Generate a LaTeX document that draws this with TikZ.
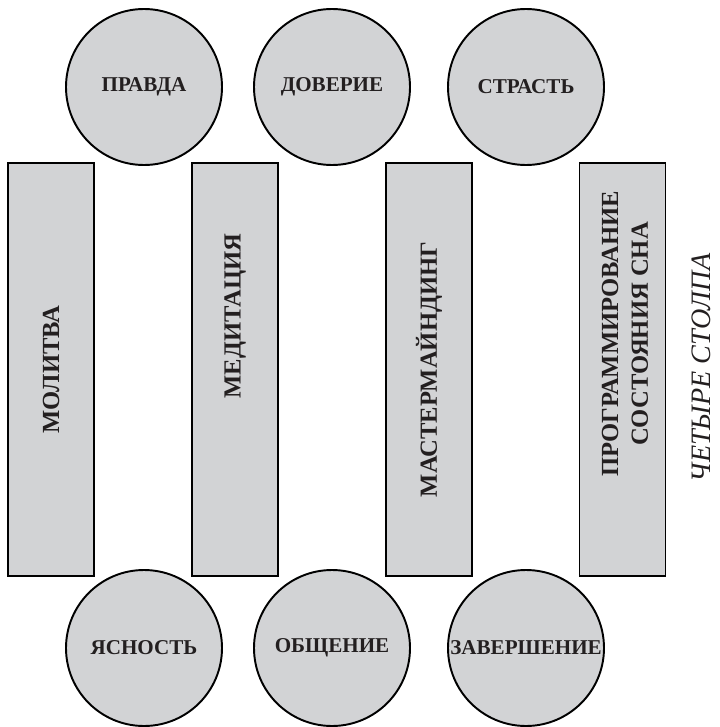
\documentclass[tikz,border=0pt]{standalone}
\usepackage{fontspec}
\setmainfont{Liberation Serif}
\usetikzlibrary{positioning}
\definecolor{pillargray}{RGB}{210,211,213}
\definecolor{inkgray}{RGB}{35,31,32}

\begin{document}
\begin{tikzpicture}[x=0.2mm,y=-0.2mm,
    virtue/.style={circle, draw=black, fill=pillargray, line width=1.1pt,
      minimum size=31.2mm, inner sep=0pt, text=inkgray,
      font=\fontsize{12}{14}\selectfont\bfseries},
    pillar/.style={rectangle, draw=black, fill=pillargray, line width=1.1pt,
      minimum width=82.6mm, minimum height=17.2mm, inner sep=0pt, rotate=90},
    pillartext/.style={rotate=90, align=center, text=inkgray,
      font=\fontsize{14}{17}\selectfont\bfseries}]
    \useasboundingbox (0,0) rectangle (719,727);
    \node[pillar] (P1) at (51,369.5) {};
    \node[pillar] (P2) at (235,369.5) {};
    \node[pillar] (P3) at (429,369.5) {};
    \node[pillar] (P4) at (622.5,369.5) {};
    \node[pillartext] (T1) at (P1) {МОЛИТВА};
    \node[pillartext] (T2) at (235,316) {МЕДИТАЦИЯ};
    \node[pillartext] (T3) at (P3) {МАСТЕРМАЙНДИНГ};
    \node[pillartext] (T4) at (625,334) {ПРОГРАММИРОВАНИЕ\\СОСТОЯНИЯ СНА};
    \node[virtue] (V1) at (144,87) {ПРАВДА};
    \node[virtue] (V2) at (332,87) {ДОВЕРИЕ};
    \node[virtue] (V3) at (526,87) {СТРАСТЬ};
    \node[virtue] (V4) at (144,648) {ЯСНОСТЬ};
    \node[virtue] (V5) at (332,648) {ОБЩЕНИЕ};
    \node[virtue] (V6) at (526,648) {ЗАВЕРШЕНИЕ};
    \node[rotate=90, inner sep=1pt, text=inkgray, font=\fontsize{16}{19}\selectfont\itshape] (title) at (701,368) {ЧЕТЫРЕ СТОЛПА};
  \end{tikzpicture}
\end{document}
